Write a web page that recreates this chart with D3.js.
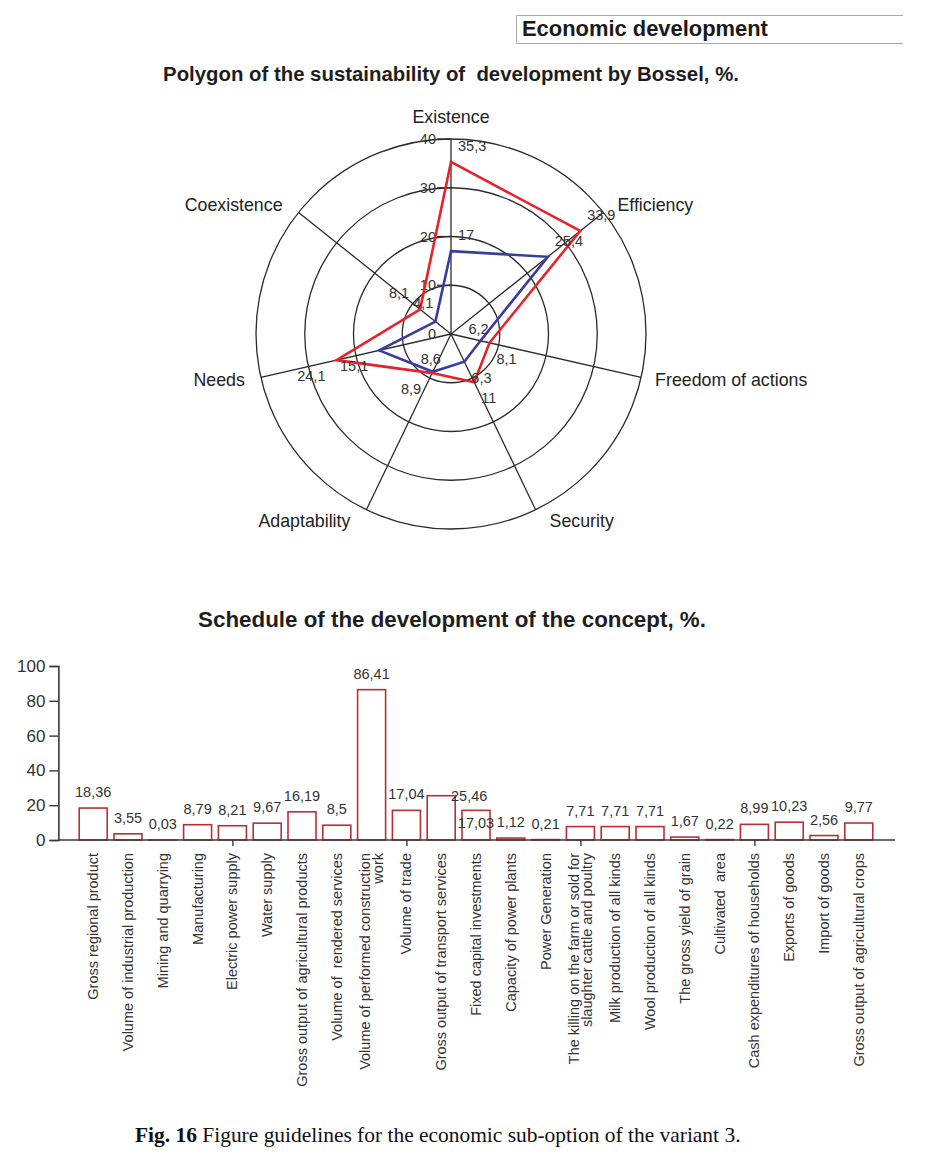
<!DOCTYPE html>
<html>
<head>
<meta charset="utf-8">
<script src="https://cdn.jsdelivr.net/npm/d3@7"></script>
<style>
  html, body { margin: 0; padding: 0; background: #fff; }
  svg { display: block; }
  text { font-family: "Liberation Sans", Arial, sans-serif; }
</style>
</head>
<body>
<svg id="chart" width="925" height="1155"></svg>
<script>
// ---------- DATA ----------
const radarAxes = ["Existence", "Efficiency", "Freedom of actions", "Security", "Adaptability", "Needs", "Coexistence"];
const radarRed  = [35.3, 33.9, 8.1, 11, 8.9, 24.1, 8.1];
const radarBlue = [17, 25.4, 6.2, 6.3, 8.6, 15.1, 4.1];
const radarTicks = [0, 10, 20, 30, 40];

const barCategories = [
  "Gross regional product",
  "Volume of industrial production",
  "Mining and quarrying",
  "Manufacturing",
  "Electric power supply",
  "Water supply",
  "Gross output of agricultural products",
  "Volume of  rendered services",
  "Volume of performed construction\nwork",
  "Volume of trade",
  "Gross output of transport services",
  "Fixed capital investments",
  "Capacity of power plants",
  "Power Generation",
  "The killing on the farm or sold for\nslaughter cattle and poultry",
  "Milk production of all kinds",
  "Wool production of all kinds",
  "The gross yield of grain",
  "Cultivated  area",
  "Cash expenditures of households",
  "Exports of goods",
  "Import of goods",
  "Gross output of agricultural crops"
];
const barValues = [18.36, 3.55, 0.03, 8.79, 8.21, 9.67, 16.19, 8.5, 86.41, 17.04, 25.46, 17.03, 1.12, 0.21, 7.71, 7.71, 7.71, 1.67, 0.22, 8.99, 10.23, 2.56, 9.77];
const barYTicks = [0, 20, 40, 60, 80, 100];
const barXTicks = [5, 10, 15, 20];

const headerText = "Economic development";
const radarTitle = "Polygon of the sustainability of  development by Bossel, %.";
const barTitle = "Schedule of the development of the concept, %.";
const captionBold = "Fig. 16";
const captionRest = " Figure guidelines for the economic sub-option of the variant 3.";

// ---------- HELPERS ----------
const fmt = v => String(v).replace(".", ",");
function fitWidth(sel, w) {
  const len = sel.node().getComputedTextLength();
  const fs = parseFloat(sel.attr("font-size"));
  sel.attr("font-size", fs * w / len);
}

const svg = d3.select("#chart");
svg.append("rect").attr("width", 925).attr("height", 1155).attr("fill", "#fff");

// ---------- HEADER ----------
svg.append("path")
  .attr("d", "M903,15.5H516.5V43.5H903")
  .attr("fill", "none").attr("stroke", "#a9a9a9").attr("stroke-width", 1);
const hdr = svg.append("text")
  .attr("x", 522).attr("y", 36)
  .attr("font-size", 20).attr("font-weight", "bold").attr("fill", "#1a1a1a")
  .text(headerText);
fitWidth(hdr, 246);

// ---------- RADAR ----------
const cx = 451, cy = 334, R = 195;
const rScale = d3.scaleLinear().domain([0, 40]).range([0, R]);
const n = radarAxes.length;
const ang = i => i * 2 * Math.PI / n;
const radar = svg.append("g").attr("transform", `translate(${cx},${cy})`);

const t1 = svg.append("text")
  .attr("x", 451).attr("y", 81).attr("text-anchor", "middle")
  .attr("font-size", 17).attr("font-weight", "bold").attr("fill", "#1e1e1e")
  .style("white-space", "pre")
  .text(radarTitle);
fitWidth(t1, 576);

// rings
radar.selectAll("circle.ring")
  .data(radarTicks.filter(d => d > 0))
  .join("circle")
  .attr("class", "ring")
  .attr("r", d => rScale(d))
  .attr("fill", "none").attr("stroke", "#2b2b2b").attr("stroke-width", 1.3);

// spokes
radar.selectAll("line.spoke")
  .data(radarAxes)
  .join("line")
  .attr("class", "spoke")
  .attr("x1", 0).attr("y1", 0)
  .attr("x2", (d, i) => rScale(40) * Math.sin(ang(i)))
  .attr("y2", (d, i) => -rScale(40) * Math.cos(ang(i)))
  .attr("stroke", "#2b2b2b").attr("stroke-width", 1.3);

// ticks on the first axis
radar.selectAll("line.tick")
  .data(radarTicks.filter(d => d > 0))
  .join("line")
  .attr("x1", -14).attr("x2", 0)
  .attr("y1", d => -rScale(d)).attr("y2", d => -rScale(d))
  .attr("stroke", "#2b2b2b").attr("stroke-width", 1.2);
radar.selectAll("text.tick")
  .data(radarTicks)
  .join("text")
  .attr("x", -15).attr("y", d => -rScale(d))
  .attr("dy", "0.35em").attr("text-anchor", "end")
  .attr("font-size", 14.5).attr("fill", "#333")
  .text(d => d);

// axis labels
radar.selectAll("text.axis")
  .data(radarAxes)
  .join("text")
  .attr("class", "axis")
  .each(function(d, i) {
    const s = Math.sin(ang(i)), c = Math.cos(ang(i));
    const px = rScale(40) * s, py = -rScale(40) * c;
    const t = d3.select(this);
    if (Math.abs(s) < 1e-6) {
      t.attr("x", px).attr("y", py - 22).attr("text-anchor", "middle");
    } else if (s > 0) {
      t.attr("x", px + 14).attr("y", py - c * 12).attr("text-anchor", "start");
    } else {
      t.attr("x", px - 16).attr("y", py - c * 12).attr("text-anchor", "end");
    }
  })
  .attr("dy", "0.35em")
  .attr("font-size", 17.8).attr("fill", "#222")
  .text(d => d);

// polygons
const radial = d3.lineRadial()
  .angle((d, i) => ang(i))
  .radius(d => rScale(d))
  .curve(d3.curveLinearClosed);

const series = [
  { name: "blue", values: radarBlue, color: "#3a3d9e",
    over: { 2: [-2, -12, "middle"], 4: [-2, -13, "middle"], 6: [-2, -19, "end"] } },
  { name: "red", values: radarRed, color: "#e5232a", over: {} }
];

series.forEach(s => {
  radar.append("path")
    .attr("d", radial(s.values))
    .attr("fill", "none").attr("stroke", s.color).attr("stroke-width", 2.6)
    .attr("stroke-linejoin", "miter");
});

series.forEach(s => {
  radar.selectAll(null)
    .data(s.values)
    .join("text")
    .each(function(v, i) {
      const sn = Math.sin(ang(i)), c = Math.cos(ang(i));
      const px = rScale(v) * sn, py = -rScale(v) * c;
      const t = d3.select(this);
      const o = s.over[i];
      if (o) {
        t.attr("x", px + o[0]).attr("y", py + o[1]).attr("text-anchor", o[2]);
      } else if (sn >= -1e-6) {
        t.attr("x", px + 7).attr("y", py + (c > 0 ? -16 : 16)).attr("text-anchor", "start");
      } else {
        t.attr("x", px - 11).attr("y", py + (c > 0 ? -16 : 16)).attr("text-anchor", "end");
      }
    })
    .attr("dy", "0.35em")
    .attr("font-size", 14.5).attr("fill", "#333")
    .text(v => fmt(v));
});

// ---------- BAR CHART ----------
const t2 = svg.append("text")
  .attr("x", 452).attr("y", 627).attr("text-anchor", "middle")
  .attr("font-size", 20).attr("font-weight", "bold").attr("fill", "#1e1e1e")
  .text(barTitle);
fitWidth(t2, 508);

const x = d3.scaleLinear().domain([0, 24]).range([58.4, 893.6]);
const y = d3.scaleLinear().domain([0, 100]).range([840, 666]);
const barW = 28;

const yAxis = svg.append("g")
  .attr("transform", "translate(58.4,0)")
  .call(d3.axisLeft(y).tickValues(barYTicks).tickSize(9).tickPadding(4).tickFormat(d => d));
yAxis.select(".domain").attr("stroke", "#3a3a3a").attr("stroke-width", 1.6);
yAxis.selectAll(".tick line").attr("stroke", "#3a3a3a").attr("stroke-width", 1.4);
yAxis.selectAll(".tick text").attr("font-size", 17).attr("fill", "#333")
  .attr("font-family", "Liberation Sans, Arial, sans-serif");

const bars = svg.append("g");
bars.selectAll("rect")
  .data(barValues)
  .join("rect")
  .attr("x", (d, i) => x(i + 1) - barW / 2)
  .attr("y", d => y(d))
  .attr("width", barW)
  .attr("height", d => Math.max(0.01, y(0) - y(d)))
  .attr("fill", "#fff").attr("stroke", "#b83035").attr("stroke-width", 1.6);

const xAxis = svg.append("g")
  .attr("transform", "translate(0,840)")
  .call(d3.axisBottom(x).tickValues(barXTicks).tickSize(6).tickFormat(""));
xAxis.select(".domain").attr("d", "M58.4,0H895").attr("stroke", "#3a3a3a").attr("stroke-width", 1.6);
xAxis.selectAll(".tick line").attr("stroke", "#3a3a3a").attr("stroke-width", 1.4);

// value labels (two labels moved by the original layout to avoid overlap)
const labelShift = { 10: [28, 16], 11: [0, 29] };
svg.append("g").selectAll("text")
  .data(barValues)
  .join("text")
  .attr("x", (d, i) => x(i + 1) + (labelShift[i] ? labelShift[i][0] : 0))
  .attr("y", (d, i) => y(d) - 11 + (labelShift[i] ? labelShift[i][1] : 0))
  .attr("text-anchor", "middle")
  .attr("font-size", 14.5).attr("fill", "#333")
  .text(d => fmt(d));

// category labels
svg.append("g").selectAll("text")
  .data(barCategories)
  .join("text")
  .attr("transform", (d, i) => `translate(${x(i + 1)},853) rotate(-90)`)
  .attr("text-anchor", "end")
  .attr("font-size", 14.5).attr("fill", "#333")
  .style("white-space", "pre")
  .each(function(d) {
    const lines = d.split("\n");
    const t = d3.select(this);
    const gap = 13;
    lines.forEach((ln, k) => {
      t.append("tspan")
        .attr("x", 0)
        .attr("y", (k - (lines.length - 1) / 2) * gap)
        .attr("dy", "0.35em")
        .text(ln);
    });
  });

// ---------- CAPTION ----------
const cap = svg.append("text")
  .attr("x", 135).attr("y", 1142)
  .attr("font-size", 17).attr("fill", "#111")
  .style("font-family", "'Liberation Serif', 'DejaVu Serif', serif");
cap.append("tspan").attr("font-weight", "bold").text(captionBold);
cap.append("tspan").text(captionRest);
fitWidth(cap, 606);
</script>
</body>
</html>
